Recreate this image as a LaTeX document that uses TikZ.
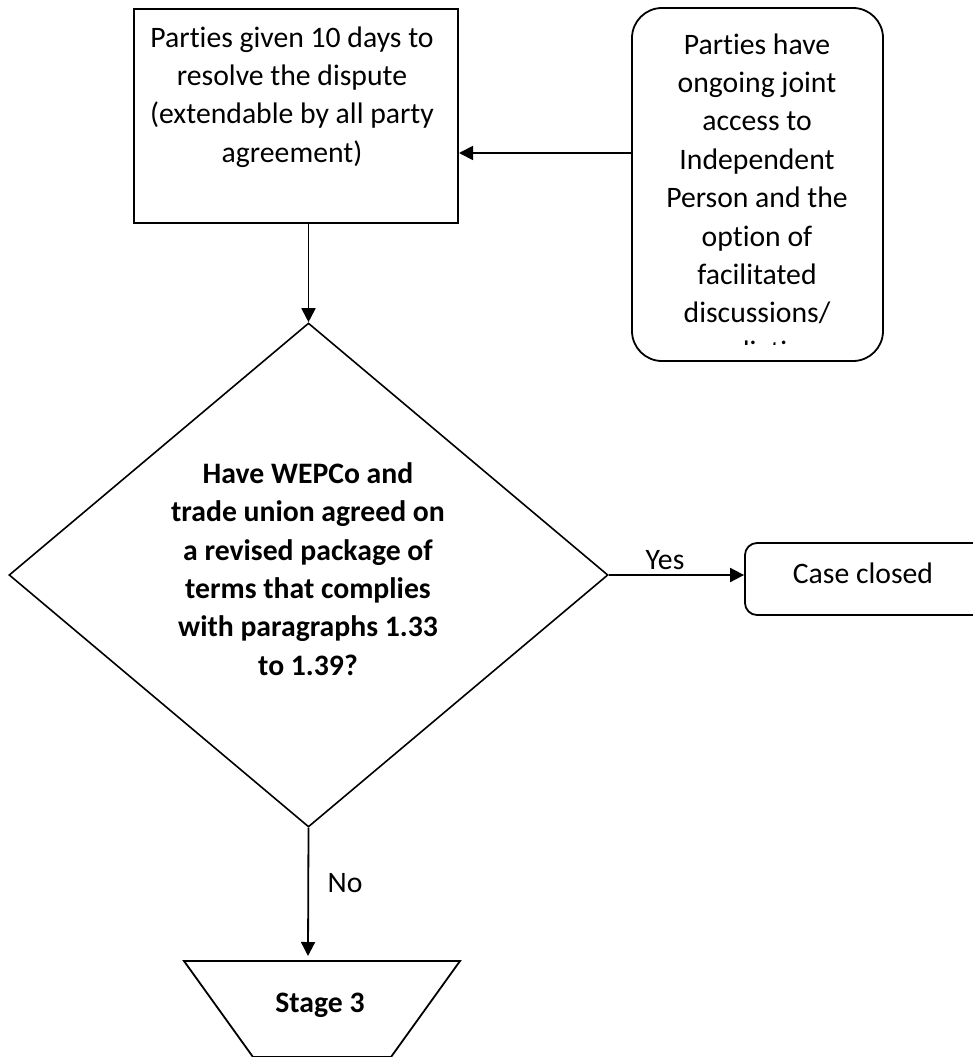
\documentclass[tikz,border=0pt]{standalone}
\usepackage{fontspec}
\setmainfont{Carlito}[RawFeature={-liga}]
\usetikzlibrary{arrows.meta,shapes.geometric}
\begin{document}
\begin{tikzpicture}[x=1pt,y=-1pt,
  txt/.style={font=\fontsize{29.7}{38.4}\selectfont, align=center, inner sep=0pt},
  boldtxt/.style={txt, font=\fontsize{29.7}{38.4}\selectfont\bfseries},
  sqbox/.style={draw, line width=2pt, inner sep=0pt},
  rbox/.style={draw, line width=1.8pt, rounded corners=30pt, inner sep=0pt},
  conn/.style={line width=1.8pt, -{Triangle[length=14pt,width=14pt]}}
]
\useasboundingbox (0,0) rectangle (972,1057);
% box 1
\node[sqbox, minimum width=324pt, minimum height=214pt] (b1) at (296,116) {};
\node[txt] (b1t) at (292,97) {Parties given 10 days to\\resolve the dispute\\(extendable by all party\\agreement)};
% box 2
\node[rbox, minimum width=251pt, minimum height=353pt] (b2) at (757.5,184.5) {};
\begin{scope}
\clip (632,0) rectangle (883,344);
\node[txt] (b2t) at (757,197.5) {Parties have\\ongoing joint\\access to\\Independent\\Person and the\\option of\\facilitated\\discussions/\\mediation};
\end{scope}
% diamond
\node[draw, diamond, line width=1.6pt, inner sep=0pt, minimum width=599pt, minimum height=504pt] (d) at (308.5,575) {};
\node[boldtxt] (dt) at (308,569) {Have WEPCo and\\trade union agreed on\\a revised package of\\terms that complies\\with paragraphs 1.33\\to 1.39?};
% case closed
\node[draw, line width=1.8pt, rounded corners=12pt, minimum width=260pt, minimum height=72pt, inner sep=0pt] (cc) at (875,579) {};
\node[txt] (cct) at (863,573) {Case closed};
% stage 3 trapezoid
\coordinate (s3tl) at (184,961);
\coordinate (s3tr) at (460,961);
\coordinate (s3br) at (391,1057);
\coordinate (s3bl) at (253,1057);
\draw[line width=1.8pt] (s3tl) -- (s3tr) -- (s3br) -- (s3bl) -- cycle;
\node[boldtxt] (s3) at (320,1005) {Stage 3};
\coordinate (s3in) at (308,956);
% connectors
\draw[conn] (b2.west |- 0,153) -- (b1.east |- 0,153);
\draw[conn] (b1.south -| d.north) -- (d.north);
\draw[conn] (d.east) -- (cc.west |- d.east);
\node[txt] (yes) at (665,560) {Yes};
\draw[conn] (d.south) -- (s3in);
\node[txt] (no) at (345,883) {No};
\end{tikzpicture}
\end{document}
